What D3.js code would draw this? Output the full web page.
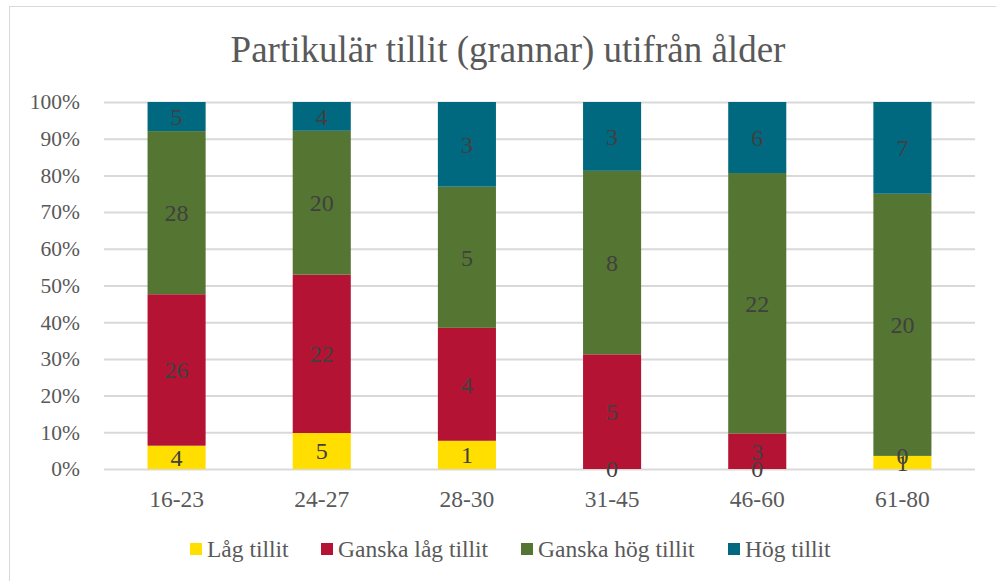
<!DOCTYPE html>
<html>
<head>
<meta charset="UTF-8">
<script src="https://cdn.jsdelivr.net/npm/d3@7"></script>
<style>
  body { margin: 0; background: #fff; }
  svg { display: block; }
  svg text { font-family: "Liberation Serif", "Times New Roman", serif; }
</style>
</head>
<body>
<svg></svg>
<script>
const width = 996;
const height = 581;
const margin = {top: 102, right: 21, bottom: 112, left: 104};

const categories = ["16-23", "24-27", "28-30", "31-45", "46-60", "61-80"];
const seriesNames = ["Låg tillit", "Ganska låg tillit", "Ganska hög tillit", "Hög tillit"];
const lagTillit = [4, 5, 1, 0, 0, 1];
const ganskaLagTillit = [26, 22, 4, 5, 3, 0];
const ganskaHogTillit = [28, 20, 5, 8, 22, 20];
const hogTillit = [5, 4, 3, 3, 6, 7];
const colors = ["#ffde00", "#b51334", "#557532", "#00687f"];
const yTicks = [0, 0.1, 0.2, 0.3, 0.4, 0.5, 0.6, 0.7, 0.8, 0.9, 1];

const seriesValues = [lagTillit, ganskaLagTillit, ganskaHogTillit, hogTillit];
const rows = categories.map((c, i) => {
  const row = {cat: c};
  seriesNames.forEach((s, j) => row[s] = seriesValues[j][i]);
  return row;
});

const stacked = d3.stack()
  .keys(seriesNames)
  .offset(d3.stackOffsetExpand)(rows);

const svg = d3.select("svg")
  .attr("width", width)
  .attr("height", height)
  .attr("viewBox", [0, 0, width, height]);

// chart frame (right and bottom edges run off the picture)
svg.append("rect")
  .attr("x", 9.5).attr("y", 6.5)
  .attr("width", width + 10).attr("height", height + 10)
  .attr("fill", "#fff")
  .attr("stroke", "#d9d9d9");

const x = d3.scaleBand()
  .domain(categories)
  .range([margin.left, width - margin.right])
  .paddingInner(0.6)
  .paddingOuter(0.3);

const y = d3.scaleLinear()
  .domain([0, 1])
  .range([height - margin.bottom, margin.top]);

svg.append("text")
  .attr("x", 508)
  .attr("y", 62)
  .attr("text-anchor", "middle")
  .attr("fill", "#595959")
  .attr("font-size", 37)
  .text("Partikulär tillit (grannar) utifrån ålder");

// y axis + gridlines
svg.append("g")
  .attr("transform", `translate(${margin.left},0)`)
  .call(d3.axisLeft(y).tickValues(yTicks).tickFormat(d3.format(".0%"))
    .tickSize(-(width - margin.left - margin.right)).tickPadding(24))
  .call(g => g.select(".domain").remove())
  .call(g => g.selectAll(".tick line").attr("stroke", "#d9d9d9").attr("stroke-width", 2))
  .call(g => g.selectAll(".tick text")
    .attr("fill", "#595959")
    .attr("font-size", 21.5));

// x axis
svg.append("g")
  .attr("transform", `translate(0,${height - margin.bottom})`)
  .call(d3.axisBottom(x).tickSize(0))
  .call(g => g.select(".domain").remove())
  .call(g => g.selectAll(".tick text")
    .attr("y", 38)
    .attr("dy", 0)
    .attr("fill", "#595959")
    .attr("font-size", 23.5));

const layers = svg.append("g")
  .selectAll("g")
  .data(stacked)
  .join("g")
    .attr("fill", (d, i) => colors[i]);

layers.selectAll("rect")
  .data(d => d)
  .join("rect")
    .attr("x", d => x(d.data.cat))
    .attr("y", d => y(d[1]))
    .attr("width", x.bandwidth())
    .attr("height", d => y(d[0]) - y(d[1]));

// data labels, centred in each segment (zero segments sit on their edge)
const labels = svg.append("g")
  .attr("font-size", 24)
  .attr("fill", "#404040")
  .attr("text-anchor", "middle");

stacked.forEach(layer => {
  layer.forEach(d => {
    labels.append("text")
      .attr("x", x(d.data.cat) + x.bandwidth() / 2)
      .attr("y", y((d[0] + d[1]) / 2))
      .attr("dy", "0.35em")
      .text(d.data[layer.key]);
  });
});

// legend
const legendX = [190, 321, 521, 728];
const legend = svg.append("g")
  .selectAll("g")
  .data(seriesNames)
  .join("g")
    .attr("transform", (d, i) => `translate(${legendX[i]},543)`);

legend.append("rect")
  .attr("width", 12).attr("height", 12)
  .attr("fill", (d, i) => colors[i]);

legend.append("text")
  .attr("x", 17)
  .attr("y", 14)
  .attr("font-size", 23.5)
  .attr("fill", "#595959")
  .text(d => d);
</script>
</body>
</html>
